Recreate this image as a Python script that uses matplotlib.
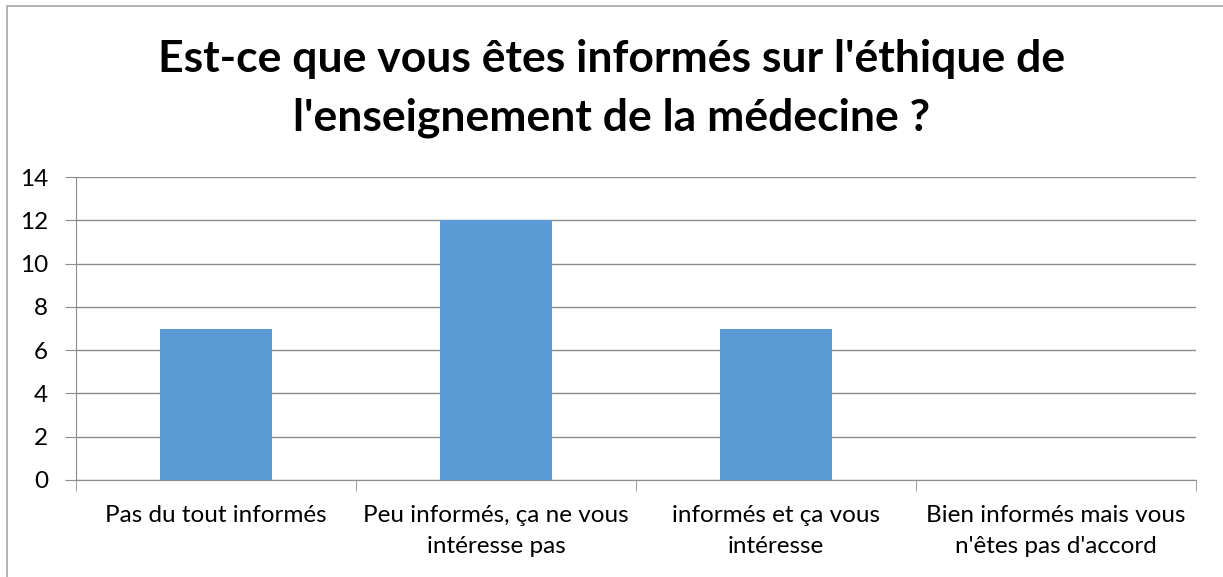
import matplotlib
matplotlib.use("Agg")
import matplotlib.pyplot as plt
from matplotlib.patches import Rectangle

categories = [
    "Pas du tout informés",
    "Peu informés, ça ne vous\nintéresse pas",
    "informés et ça vous\nintéresse",
    "Bien informés mais vous\nn'êtes pas d'accord",
]
values = [7, 12, 7, 0]
yticks = [0, 2, 4, 6, 8, 10, 12, 14]
title_lines = ["Est-ce que vous êtes informés sur l'éthique de",
               "l'enseignement de la médecine ?"]

plt.rcParams['font.family'] = ['Lato', 'DejaVu Sans']

W, H = 1223, 577
fig = plt.figure(figsize=(W / 100, H / 100), dpi=100)

# plot area in pixel coords
left, right, top, bottom = 76, 1196, 177, 480
ax = fig.add_axes([left / W, 1 - bottom / H, (right - left) / W, (bottom - top) / H])

# chart border (runs off the right / bottom edge)
fig.patches.append(Rectangle((7 / W, -0.1), 1.2, 1 - 6 / H + 0.1, transform=fig.transFigure,
                             fill=False, edgecolor='#a6a6a6', linewidth=1.2))

x = list(range(len(categories)))
ax.bar(x, values, width=0.4, color='#5b9bd5', zorder=3)

ax.set_xlim(-0.5, len(categories) - 0.5)
ax.set_ylim(0, 14)
ax.set_yticks(yticks)
ax.set_yticklabels([str(t) for t in yticks], fontsize=17.5)
ax.yaxis.grid(True, color='#8c8c8c', linewidth=1, zorder=0)

ax.set_xticks(x)
ax.set_xticklabels(categories, fontsize=17.5, linespacing=1.6)
ax.tick_params(axis='x', length=0, pad=18)
ax.tick_params(axis='y', length=8, color='#8c8c8c', pad=12)

# category boundary ticks
ax.set_xticks([i - 0.5 for i in range(len(categories) + 1)], minor=True)
ax.tick_params(axis='x', which='minor', length=8, color='#8c8c8c')

for s in ['top', 'right']:
    ax.spines[s].set_visible(False)
for s in ['left', 'bottom']:
    ax.spines[s].set_color('#8c8c8c')

for line, base in zip(title_lines, [72, 130]):
    fig.text(0.5, 1 - base / H, line, ha='center', va='baseline', fontsize=32,
             fontweight='bold')

fig.savefig("out.png", dpi=100)
